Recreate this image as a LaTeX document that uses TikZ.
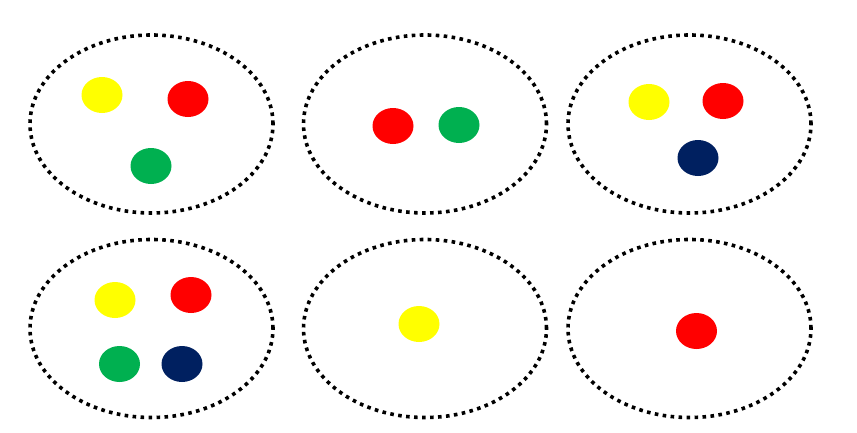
\documentclass[tikz,border=0pt]{standalone}
\usetikzlibrary{shapes.geometric}
\definecolor{cyel}{HTML}{FFFF00}
\definecolor{cred}{HTML}{FF0000}
\definecolor{cgrn}{HTML}{00B050}
\definecolor{cnav}{HTML}{002060}
\begin{document}
\begin{tikzpicture}[x=1pt,y=-1pt,
  setring/.style={draw=black, ellipse, inner sep=0pt, minimum width=243pt, minimum height=178pt,
    line width=3.6pt, dash pattern=on 3.6pt off 4.4pt},
  ball/.style={ellipse, inner sep=0pt, minimum width=41pt, minimum height=36pt, fill=#1, draw=none}]
\useasboundingbox (0,0) rectangle (857,432);
% top row
\node[setring] (s1) at (151.5,124) {};
\node[setring] (s2) at (425,124) {};
\node[setring] (s3) at (689.5,124) {};
% bottom row
\node[setring] (s4) at (151.5,328.5) {};
\node[setring] (s5) at (425,328.5) {};
\node[setring] (s6) at (689.5,328.5) {};
% set 1
\node[ball=cyel] (y1) at (102,95) {};
\node[ball=cred] (r1) at (188,99) {};
\node[ball=cgrn] (g1) at (151,166) {};
% set 2
\node[ball=cred] (r2) at (393,126) {};
\node[ball=cgrn] (g2) at (459,125) {};
% set 3
\node[ball=cyel] (y3) at (649,102) {};
\node[ball=cred] (r3) at (723,101) {};
\node[ball=cnav] (n3) at (698,158) {};
% set 4
\node[ball=cyel] (y4) at (115,300) {};
\node[ball=cred] (r4) at (191,295) {};
\node[ball=cgrn] (g4) at (119.5,364) {};
\node[ball=cnav] (n4) at (182,364) {};
% set 5
\node[ball=cyel] (y5) at (419,324) {};
% set 6
\node[ball=cred] (r6) at (696.5,331) {};
\end{tikzpicture}
\end{document}
